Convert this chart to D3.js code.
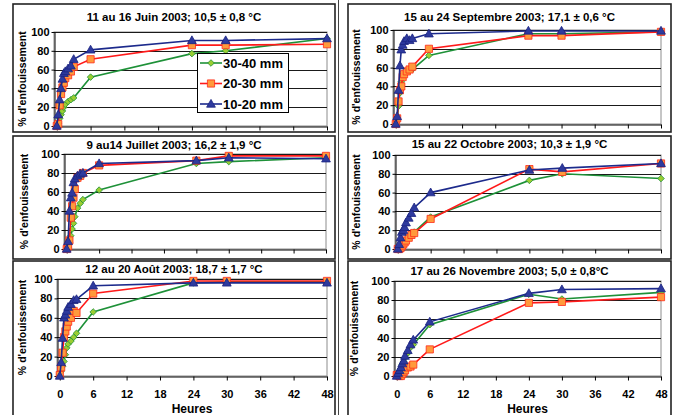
<!DOCTYPE html>
<html><head><meta charset="utf-8">
<script src="https://cdn.jsdelivr.net/npm/d3@7"></script>
<style>
body{margin:0;background:#fff}
svg{display:block}
text{font-family:"Liberation Sans",Arial,sans-serif}
</style></head>
<body><svg id="c" width="676" height="415"></svg>
<script>
// ---- data ----
const hours = [0, 0.25, 0.5, 0.75, 1, 1.25, 1.5, 2, 2.5, 3, 6, 24, 30, 48];
const seriesNames = ["30-40 mm", "20-30 mm", "10-20 mm"];
const yTicks = [0, 20, 40, 60, 80, 100];
const xTicks = [0, 6, 12, 18, 24, 30, 36, 42, 48];
const titles = [
  "11 au 16 Juin 2003; 10,5 ± 0,8 °C",
  "15 au 24 Septembre 2003; 17,1 ± 0,6 °C",
  "9 au14 Juillet 2003; 16,2 ± 1,9 °C",
  "15 au 22 Octobre 2003; 10,3 ± 1,9 °C",
  "12 au 20 Août 2003; 18,7 ± 1,7 °C",
  "17 au 26 Novembre 2003; 5,0 ± 0,8°C"
];
const juin3040 = [0, 3, 8, 12, 16, 20, 23, 26, 28, 30, 52, 77, 80, 93];
const juin2030 = [0, 2, 22, 34, 41, 46, 51, 54, 58, 63, 71, 86, 86, 87];
const juin1020 = [0, 12, 28, 40, 50, 56, 58, 61, 64, 71, 81, 91, 91, 93];
const sept3040 = [0, 5, 19, 33, 45, 49, 52, 55, 57, 58, 73, 96, 96, 98];
const sept2030 = [0, 6, 24, 36, 40, 50, 53, 56, 58, 61, 80, 94, 94, 98];
const sept1020 = [0, 8, 36, 62, 79, 84, 88, 91, 89, 91, 96, 99, 99, 99];
const juil3040 = [0, 2, 7, 14, 21, 27, 34, 43, 48, 52, 62, 90, 92, 96];
const juil2030 = [0, 3, 9, 33, 45, 54, 63, 75, 77, 80, 88, 93, 98, 98];
const juil1020 = [0, 8, 40, 54, 59, 70, 74, 77, 79, 80, 90, 93, 96, 95];
const oct3040  = [0, 0, 1, 3, 5, 8, 10, 13, 16, 18, 34, 73, 80, 75];
const oct2030  = [0, 0, 1, 3, 5, 7, 9, 12, 15, 17, 32, 85, 82, 91];
const oct1020  = [0, 5, 12, 18, 20, 23, 28, 33, 38, 44, 60, 84, 86, 91];
const aout3040 = [1, 5, 10, 15, 22, 29, 33, 36, 40, 44, 66, 96, 97, 97];
const aout2030 = [1, 9, 24, 40, 46, 51, 56, 60, 67, 65, 85, 98, 98, 98];
const aout1020 = [0, 14, 39, 60, 63, 67, 71, 74, 78, 79, 93, 96, 96, 96];
const nov3040  = [0, 2, 5, 8, 12, 15, 19, 24, 30, 33, 54, 86, 81, 88];
const nov2030  = [1, 1, 0, 0, 2, 4, 6, 9, 10, 12, 28, 77, 78, 83];
const nov1020  = [0, 3, 6, 9, 13, 16, 21, 27, 33, 38, 57, 87, 91, 92];

// ---- layout ----
const panels = [
  {box:[13,4,335,132], plot:[54,32,327,126], ty:20, yl:22, xl:false, legend:true, data:[juin3040,juin2030,juin1020]},
  {box:[348,4,671,132], plot:[393,30,661,124], ty:20, yl:356, xl:false, data:[sept3040,sept2030,sept1020]},
  {box:[13,136,335,259], plot:[64,154,326,249], ty:148, yl:24, xl:false, data:[juil3040,juil2030,juil1020]},
  {box:[348,136,671,259], plot:[395,155,661,249], ty:147, yl:356, xl:false, data:[oct3040,oct2030,oct1020]},
  {box:[13,261,335,420], plot:[57,279,327,376], ty:272, yl:22, xl:true, data:[aout3040,aout2030,aout1020]},
  {box:[348,261,671,420], plot:[394,281,661,376], ty:274, yl:354, xl:true, data:[nov3040,nov2030,nov1020]}
];
const styles = [
  {line:"#1e9138", fill:"#9acd32", stroke:"#1e9138", shape:"diamond"},
  {line:"#ff1a1a", fill:"#ff9a3c", stroke:"#ff2a1a", shape:"square"},
  {line:"#1c2a8c", fill:"#2e3a9e", stroke:"#1a2380", shape:"triangle"}
];
function shapePath(s){
  if(s==="diamond") return "M0,-3.3L3.3,0L0,3.3L-3.3,0Z";
  if(s==="square") return "M-3.6,-3.6H3.6V3.6H-3.6Z";
  return "M0,-4.6L4.4,3.2L-4.4,3.2Z";
}

const svg = d3.select("#c");
svg.append("line").attr("x1",338.5).attr("x2",338.5).attr("y1",0).attr("y2",415)
  .attr("stroke","#444").attr("stroke-width",1);

panels.forEach((p,i)=>{
  const g = svg.append("g");
  const [bx0,by0,bx1,by1] = p.box;
  g.append("rect").attr("x",bx0).attr("y",by0).attr("width",bx1-bx0).attr("height",by1-by0)
    .attr("fill","#fff").attr("stroke","#222").attr("stroke-width",1.6);
  const [px0,py0,px1,py1] = p.plot;
  const x = d3.scaleLinear().domain([-0.5,48]).range([px0,px1]);
  const y = d3.scaleLinear().domain([0,100]).range([py1,py0]);
  g.append("rect").attr("x",px0).attr("y",py0).attr("width",px1-px0).attr("height",py1-py0)
    .attr("fill","#fff").attr("stroke","#8c8c8c").attr("stroke-width",1);
  g.selectAll(".grid").data(yTicks.slice(1)).join("line")
    .attr("x1",px0).attr("x2",px1).attr("y1",d=>Math.round(y(d))+0.5).attr("y2",d=>Math.round(y(d))+0.5)
    .attr("stroke","#1a1a1a").attr("stroke-width",1);
  const ya = g.append("g").attr("transform",`translate(${px0+0.5},0)`)
    .call(d3.axisLeft(y).tickValues(yTicks).tickSize(3).tickPadding(2).tickSizeOuter(0));
  ya.select(".domain").attr("stroke","#000");
  ya.selectAll("text").attr("font-size","11px").attr("font-weight","bold").attr("fill","#000");
  const xa = g.append("g").attr("transform",`translate(0,${py1+0.5})`)
    .call(d3.axisBottom(x).tickValues(xTicks).tickSize(4).tickPadding(10).tickSizeOuter(0)
      .tickFormat(p.xl ? d3.format("d") : ""));
  xa.select(".domain").attr("stroke","#000");
  xa.selectAll("text").attr("font-size","11px").attr("font-weight","bold").attr("fill","#000");
  if(p.xl){
    g.append("text").attr("x",(px0+px1)/2).attr("y",413).attr("text-anchor","middle")
      .attr("font-size","12px").attr("font-weight","bold").text("Heures");
  }
  g.append("text").attr("x",(bx0+bx1)/2).attr("y",p.ty+0.5).attr("text-anchor","middle")
    .attr("font-size","11.5px").attr("font-weight","bold").text(titles[i]);
  g.append("text").attr("transform",`translate(${p.yl+3.5},${(py0+py1)/2}) rotate(-90)`)
    .attr("text-anchor","middle").attr("font-size","10.5px").attr("font-weight","bold")
    .text("% d'enfouissement");
  const line = d3.line().x((d,j)=>x(hours[j])).y(d=>y(d));
  p.data.forEach((vals,k)=>{
    const st = styles[k];
    g.append("path").datum(vals).attr("d",line).attr("fill","none")
      .attr("stroke",st.line).attr("stroke-width",1.6);
    g.selectAll(".m"+k).data(vals).join("path")
      .attr("transform",(d,j)=>`translate(${x(hours[j])},${y(d)})`)
      .attr("d",shapePath(st.shape)).attr("fill",st.fill).attr("stroke",st.stroke).attr("stroke-width",0.8);
  });
  if(p.legend){
    const lg = g.append("g");
    lg.append("rect").attr("x",197.5).attr("y",53.5).attr("width",91).attr("height",59)
      .attr("fill","#fff").attr("stroke","#000").attr("stroke-width",1);
    seriesNames.forEach((n,k)=>{
      const st = styles[k]; const yy = 63 + k*20.5;
      lg.append("line").attr("x1",200).attr("x2",222).attr("y1",yy).attr("y2",yy)
        .attr("stroke",st.line).attr("stroke-width",1.6);
      lg.append("path").attr("transform",`translate(211,${yy})`).attr("d",shapePath(st.shape))
        .attr("fill",st.fill).attr("stroke",st.stroke).attr("stroke-width",0.8);
      lg.append("text").attr("x",223).attr("y",yy+4.5).attr("font-size","13px")
        .attr("font-weight","bold").text(n);
    });
  }
});
</script></body></html>
